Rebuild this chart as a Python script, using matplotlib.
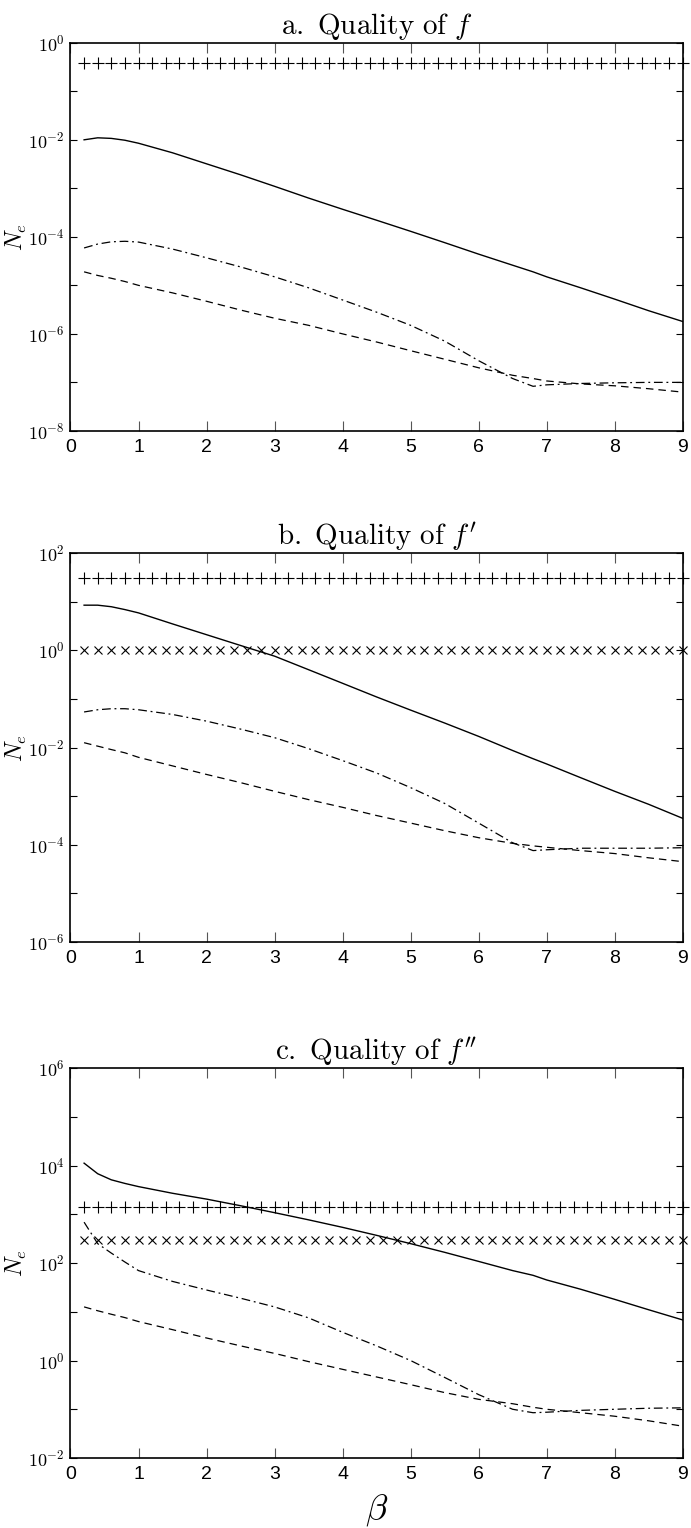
import numpy as np
import matplotlib.pyplot as plt
from matplotlib.ticker import FixedLocator, NullFormatter

plt.rcParams.update({
    'mathtext.fontset': 'cm',
    'font.family': ['Liberation Sans Narrow', 'Liberation Sans'],
    'font.size': 11,
    'axes.linewidth': 1.2,
    'xtick.direction': 'in',
    'ytick.direction': 'in',
    'xtick.top': True,
    'ytick.right': True,
})

# beta grid of the markers (flat reference levels)
beta_mark = np.arange(1, 46) * 0.2

# ---- panel a: quality of f ----
beta_a = [0.2, 0.4, 0.6, 0.8, 1.0, 1.5, 2.0, 2.5, 3.0, 3.5, 4.0, 4.5, 5.0,
          5.5, 6.0, 6.5, 6.8, 7.0, 7.5, 8.0, 8.5, 9.0]
solid_a = [1.0e-2, 1.1e-2, 1.07e-2, 9.8e-3, 8.5e-3, 5.4e-3, 3.2e-3, 1.9e-3,
           1.1e-3, 6.3e-4, 3.7e-4, 2.2e-4, 1.3e-4, 7.6e-5, 4.4e-5, 2.6e-5,
           1.9e-5, 1.5e-5, 8.9e-6, 5.2e-6, 3.0e-6, 1.8e-6]
dashdot_a = [5.9e-5, 7.1e-5, 7.9e-5, 8.1e-5, 7.8e-5, 5.6e-5, 3.7e-5, 2.4e-5,
             1.5e-5, 8.9e-6, 5.0e-6, 2.8e-6, 1.5e-6, 7.1e-7, 2.8e-7, 1.2e-7,
             8.3e-8, 8.9e-8, 9.5e-8, 9.8e-8, 1.0e-7, 1.0e-7]
dashed_a = [1.9e-5, 1.6e-5, 1.4e-5, 1.2e-5, 1.0e-5, 7.0e-6, 4.7e-6, 3.1e-6,
            2.1e-6, 1.5e-6, 1.0e-6, 6.8e-7, 4.5e-7, 3.0e-7, 2.0e-7, 1.4e-7,
            1.2e-7, 1.07e-7, 9.3e-8, 8.5e-8, 7.4e-8, 6.3e-8]
plus_a = 0.39

# ---- panel b: quality of f' ----
beta_b = beta_a
solid_b = [8.5, 8.5, 7.9, 6.9, 5.9, 3.5, 2.1, 1.26, 0.76, 0.40, 0.21, 0.11,
           0.059, 0.032, 0.017, 8.7e-3, 5.9e-3, 4.6e-3, 2.4e-3, 1.26e-3,
           6.8e-4, 3.5e-4]
dashdot_b = [0.054, 0.060, 0.063, 0.063, 0.060, 0.048, 0.035, 0.024, 0.016,
             9.5e-3, 5.4e-3, 3.0e-3, 1.5e-3, 7.1e-4, 2.8e-4, 1.1e-4, 7.6e-5,
             7.9e-5, 8.5e-5, 8.5e-5, 8.5e-5, 8.7e-5]
dashed_b = [0.0126, 0.0107, 9.1e-3, 7.8e-3, 6.3e-3, 4.2e-3, 2.8e-3, 1.9e-3,
            1.26e-3, 8.5e-4, 5.9e-4, 4.0e-4, 2.8e-4, 1.95e-4, 1.4e-4,
            1.07e-4, 9.5e-5, 8.9e-5, 7.6e-5, 6.6e-5, 5.4e-5, 4.5e-5]
plus_b = 31.0
cross_b = 1.0

# ---- panel c: quality of f'' ----
beta_c = beta_a
solid_c = [1.12e4, 6.8e3, 5.1e3, 4.3e3, 3.7e3, 2.7e3, 2.05e3, 1.5e3, 1.08e3,
           7.7e2, 5.4e2, 3.7e2, 2.5e2, 1.66e2, 1.08e2, 70.0, 56.0, 45.0,
           29.0, 18.0, 11.0, 6.8]
dashdot_c = [6.9e2, 2.5e2, 1.6e2, 1.05e2, 70.0, 42.0, 28.0, 19.0, 12.6, 7.5,
             3.8, 2.0, 1.0, 0.45, 0.2, 0.1, 0.085, 0.087, 0.095, 0.10,
             0.105, 0.107]
dashed_c = [12.6, 10.5, 8.9, 7.6, 6.3, 4.3, 2.9, 2.0, 1.4, 0.95, 0.66, 0.46,
            0.32, 0.22, 0.16, 0.13, 0.11, 0.10, 0.085, 0.072, 0.058, 0.045]
plus_c = 1.4e3
cross_c = 3.0e2

panels = [
    dict(title=r'$\mathrm{a.\ Quality\ of\ }f$', ylim=(1e-8, 1e0),
         beta=beta_a, solid=solid_a, dashdot=dashdot_a, dashed=dashed_a,
         plus=plus_a, cross=None, rect=[0.102, 0.718, 0.886, 0.254]),
    dict(title=r"$\mathrm{b.\ Quality\ of\ }f'$", ylim=(1e-6, 1e2),
         beta=beta_b, solid=solid_b, dashdot=dashdot_b, dashed=dashed_b,
         plus=plus_b, cross=cross_b, rect=[0.102, 0.3835, 0.886, 0.2545]),
    dict(title=r"$\mathrm{c.\ Quality\ of\ }f''$", ylim=(1e-2, 1e6),
         beta=beta_c, solid=solid_c, dashdot=dashdot_c, dashed=dashed_c,
         plus=plus_c, cross=cross_c, rect=[0.102, 0.0458, 0.886, 0.2552]),
]

fig = plt.figure(figsize=(6.91, 15.28), dpi=100)

for p in panels:
    ax = fig.add_axes(p['rect'])
    ax.set_yscale('log')
    ax.plot(p['beta'], p['solid'], '-', color='black', lw=1.0)
    ax.plot(p['beta'], p['dashdot'], '-.', color='black', lw=0.9,
            dashes=(7, 3, 1.5, 3))
    ax.plot(p['beta'], p['dashed'], '--', color='black', lw=0.9,
            dashes=(6, 4))
    ax.plot(beta_mark, np.full(beta_mark.shape, p['plus']), '+',
            color='black', ms=8, mew=0.8, clip_on=False)
    if p['cross'] is not None:
        ax.plot(beta_mark, np.full(beta_mark.shape, p['cross']), 'x',
                color='black', ms=5.5, mew=0.8, clip_on=False)

    lo, hi = p['ylim']
    ax.set_xlim(0, 9)
    ax.set_ylim(lo, hi)
    e_lo, e_hi = int(np.log10(lo)), int(np.log10(hi))
    ax.yaxis.set_major_locator(FixedLocator([10.0 ** e for e in range(e_lo, e_hi + 1, 2)]))
    ax.yaxis.set_minor_locator(FixedLocator([10.0 ** e for e in range(e_lo + 1, e_hi, 2)]))
    ax.yaxis.set_minor_formatter(NullFormatter())
    ax.set_yticklabels([r'$\mathsf{10^{%d}}$' % e for e in range(e_lo, e_hi + 1, 2)],
                       fontsize=13)
    ax.set_xticks(range(10))
    ax.set_xticklabels([str(i) for i in range(10)], fontsize=14)
    ax.tick_params(axis='x', length=7, width=0.8, color='#555', pad=6)
    ax.tick_params(axis='y', which='both', length=5, width=0.8, pad=4)
    ax.set_ylabel(r'$N_e$', fontsize=17)
    ax.yaxis.set_label_coords(-0.068, 0.5)
    ax.set_title(p['title'], fontsize=21, pad=6)

fig.text(0.545, 0.006, r'$\beta$', fontsize=26, ha='center')

fig.savefig('out.png', dpi=100, facecolor='white')
